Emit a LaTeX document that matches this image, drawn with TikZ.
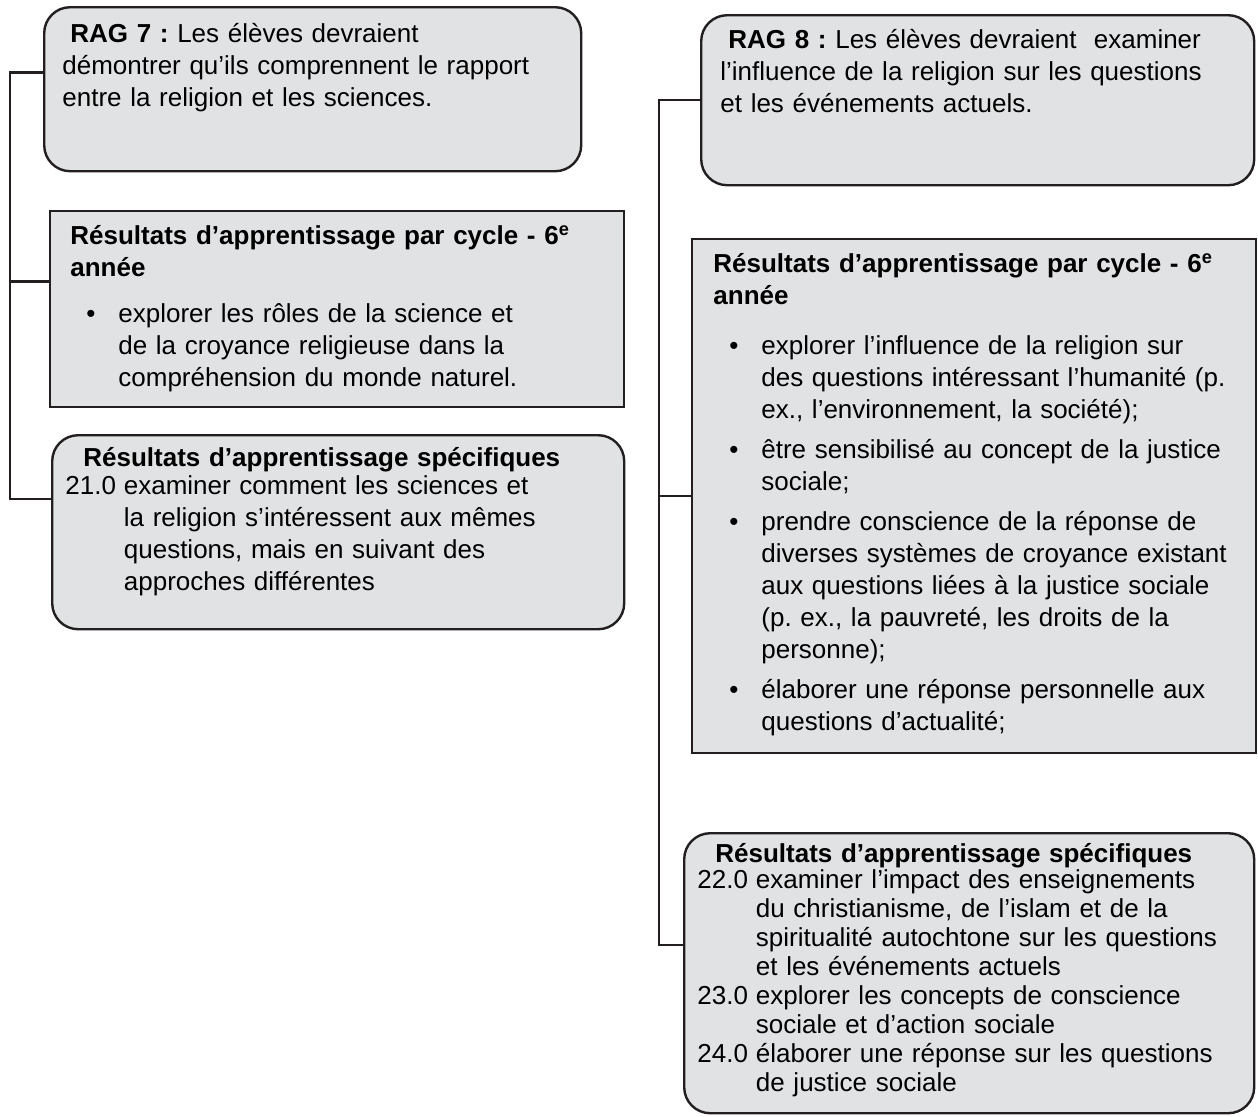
\documentclass[tikz,border=0pt]{standalone}
\usepackage{fontspec}
\setmainfont{Liberation Sans}
\usetikzlibrary{calc}
\definecolor{boxfill}{RGB}{225,226,228}
\definecolor{boxline}{RGB}{35,31,32}
\frenchspacing
% hanging labels inside the boxes
\newcommand{\numlab}[1]{\makebox[2.25em][l]{#1}}
\newcommand{\numcont}{\hspace*{2.25em}}
\newcommand{\bul}{\hspace*{8pt}\makebox[16pt][l]{•}}
\newcommand{\bulcont}{\hspace*{24pt}}
\tikzset{
  ragbox/.style={draw=boxline, fill=boxfill, line width=1.2pt, rounded corners=13pt, inner sep=0pt, anchor=north west},
  cyclebox/.style={ragbox, sharp corners},
  boxtext/.style={anchor=base west, inner sep=0pt, align=left, font=\fontsize{13pt}{16pt}\selectfont},
  link/.style={draw=boxline, line width=1.2pt},
}
\begin{document}
\begin{tikzpicture}[x=0.5pt, y=-0.5pt]
\useasboundingbox (0,0) rectangle (1258,1116);

%left column: RAG 7
\node[ragbox, minimum width=268.5pt, minimum height=82pt] (rag7) at (43,6) {};
\node[cyclebox, minimum width=287pt, minimum height=98pt] (cycle7) at (49,210) {};
\node[ragbox, minimum width=286pt, minimum height=97pt] (spec7) at (51,434) {};

\node[boxtext, text width=257pt] (ragtxt7) at ($(rag7.north west)+(19,36)$)
  {\hspace*{4pt}\textbf{RAG 7 :} Les élèves devraient\\
   démontrer qu’ils comprennent le rapport\\
   entre la religion et les sciences.};
\node[boxtext, text width=280pt] (cycletxt7) at ($(cycle7.north west)+(21,34)$)
  {\textbf{Résultats d’apprentissage par cycle - 6\textsuperscript{e}}\\
   \textbf{année}\\[7pt]
   \bul explorer les rôles de la science et\\
   \bulcont de la croyance religieuse dans la\\
   \bulcont compréhension du monde naturel.};
\node[boxtext, text width=280pt] (spectxt7) at ($(spec7.north west)+(14,32)$)
  {\hspace*{9pt}\textbf{Résultats d’apprentissage spécifiques}\\[-2pt]
   \numlab{21.0}examiner comment les sciences et\\
   \numcont la religion s’intéressent aux mêmes\\
   \numcont questions, mais en suivant des\\
   \numcont approches différentes};

%left connector
\coordinate (spine7) at (10,0);
\coordinate (a7) at ($(rag7.north west)!.4!(rag7.south west)$);
\coordinate (b7) at ($(cycle7.north west)!.36!(cycle7.south west)$);
\coordinate (c7) at ($(spec7.north west)!.33!(spec7.south west)$);
\draw[link] (a7) -- (a7 -| spine7) -- (c7 -| spine7) -- (c7);
\draw[link] (b7) -- (b7 -| spine7);

%right column: RAG 8
\node[ragbox, minimum width=276.5pt, minimum height=85pt] (rag8) at (700,14) {};
\node[cyclebox, minimum width=282pt, minimum height=257pt] (cycle8) at (691,238) {};
\node[ragbox, minimum width=285pt, minimum height=140pt] (spec8) at (683,832) {};

\node[boxtext, text width=270pt] (ragtxt8) at ($(rag8.north west)+(20,34)$)
  {\hspace*{4pt}\textbf{RAG 8 :} Les élèves devraient\ \ examiner\\
   l’influence de la religion sur les questions\\
   et les événements actuels.};
\node[boxtext, text width=276pt] (cycletxt8) at ($(cycle8.north west)+(22,34)$)
  {\textbf{Résultats d’apprentissage par cycle - 6\textsuperscript{e}}\\
   \textbf{année}\\[9pt]
   \bul explorer l’influence de la religion sur\\
   \bulcont des questions intéressant l’humanité (p.\\
   \bulcont ex., l’environnement, la société);\\[4pt]
   \bul être sensibilisé au concept de la justice\\
   \bulcont sociale;\\[4pt]
   \bul prendre conscience de la réponse de\\
   \bulcont diverses systèmes de croyance existant\\
   \bulcont aux questions liées à la justice sociale\\
   \bulcont (p. ex., la pauvreté, les droits de la\\
   \bulcont personne);\\[4pt]
   \bul élaborer une réponse personnelle aux\\
   \bulcont questions d’actualité;};
\node[boxtext, text width=280pt] (spectxt8) at ($(spec8.north west)+(14,30)$)
  {\hspace*{9pt}\textbf{Résultats d’apprentissage spécifiques}\\[-3pt]
   \numlab{22.0}examiner l’impact des enseignements\\[-1.5pt]
   \numcont du christianisme, de l’islam et de la\\[-1.5pt]
   \numcont spiritualité autochtone sur les questions\\[-1.5pt]
   \numcont et les événements actuels\\[-1.5pt]
   \numlab{23.0}explorer les concepts de conscience\\[-1.5pt]
   \numcont sociale et d’action sociale\\[-1.5pt]
   \numlab{24.0}élaborer une réponse sur les questions\\[-1.5pt]
   \numcont de justice sociale};

%right connector
\coordinate (spine8) at (659,0);
\coordinate (a8) at (rag8.west);
\coordinate (b8) at (cycle8.west);
\coordinate (c8) at ($(spec8.north west)!.4!(spec8.south west)$);
\draw[link] (a8) -- (a8 -| spine8) -- (c8 -| spine8) -- (c8);
\draw[link] (b8) -- (b8 -| spine8);
\end{tikzpicture}
\end{document}
